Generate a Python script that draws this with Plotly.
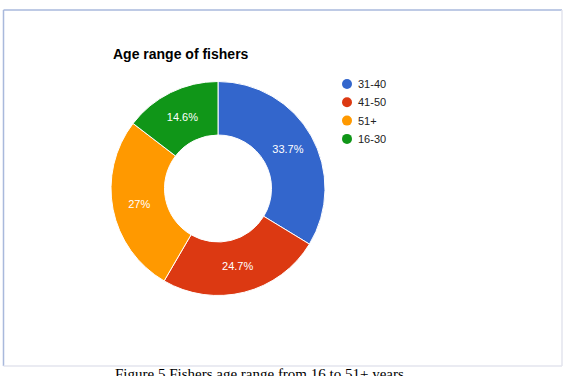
import plotly.graph_objects as go

categories = ["31-40", "41-50", "51+", "16-30"]
values = [33.7, 24.7, 27.0, 14.6]
colors = ["#3366cc", "#dc3912", "#ff9900", "#109618"]
title_text = "Age range of fishers"
caption_text = "Figure 5 Fishers age range from 16 to 51+ years"

W, H = 566, 376

def px(x):
    return x / W

def py(y):
    return 1 - y / H

labels_txt = [("%g" % v) + "%" for v in values]

fig = go.Figure()
fig.add_trace(go.Pie(
    labels=categories,
    values=values,
    text=labels_txt,
    textinfo="text",
    texttemplate="%{text}",
    textposition="inside",
    insidetextorientation="horizontal",
    textfont=dict(family="Liberation Sans, Arial", size=11, color="white"),
    marker=dict(colors=colors, line=dict(color="white", width=1)),
    hole=0.5,
    sort=False,
    direction="clockwise",
    rotation=0,
    showlegend=False,
    domain=dict(x=[px(111), px(325)], y=[py(297), py(80)]),
))

shapes = [
    # frame
    dict(type="line", xref="paper", yref="paper", x0=px(3.5), x1=px(562), y0=py(10), y1=py(10),
         line=dict(color="#a9b9dc", width=1.5)),
    dict(type="line", xref="paper", yref="paper", x0=px(3.5), x1=px(3.5), y0=py(10), y1=py(366),
         line=dict(color="#a9b9dc", width=1.5)),
    dict(type="line", xref="paper", yref="paper", x0=px(562), x1=px(562), y0=py(10), y1=py(366),
         line=dict(color="#e3e5ee", width=1.5)),
    dict(type="line", xref="paper", yref="paper", x0=px(3.5), x1=px(562), y0=py(366), y1=py(366),
         line=dict(color="#e3e5ee", width=1.5)),
]
annotations = [
    dict(text="<b>" + title_text + "</b>", xref="paper", yref="paper", x=px(111), y=py(44),
         xanchor="left", yanchor="top", showarrow=False,
         font=dict(family="Liberation Sans, Arial", size=14, color="#000000")),
    dict(text=caption_text, xref="paper", yref="paper", x=px(113), y=py(364),
         xanchor="left", yanchor="top", showarrow=False,
         font=dict(family="Liberation Serif, Times New Roman", size=15, color="#000000")),
]

# legend built from categories
for i, (cat, col) in enumerate(zip(categories, colors)):
    yc = 84 + i * 18.3
    shapes.append(dict(type="circle", xref="paper", yref="paper",
                       x0=px(342), x1=px(352), y0=py(yc + 5), y1=py(yc - 5),
                       fillcolor=col, line=dict(width=0)))
    annotations.append(dict(text=cat, xref="paper", yref="paper", x=px(356), y=py(yc),
                            xanchor="left", yanchor="middle", showarrow=False,
                            font=dict(family="Liberation Sans, Arial", size=11, color="#222222")))

fig.update_layout(
    width=W, height=H,
    margin=dict(l=0, r=0, t=0, b=0),
    paper_bgcolor="white",
    plot_bgcolor="white",
    shapes=shapes,
    annotations=annotations,
)

fig.write_html("out.html")
